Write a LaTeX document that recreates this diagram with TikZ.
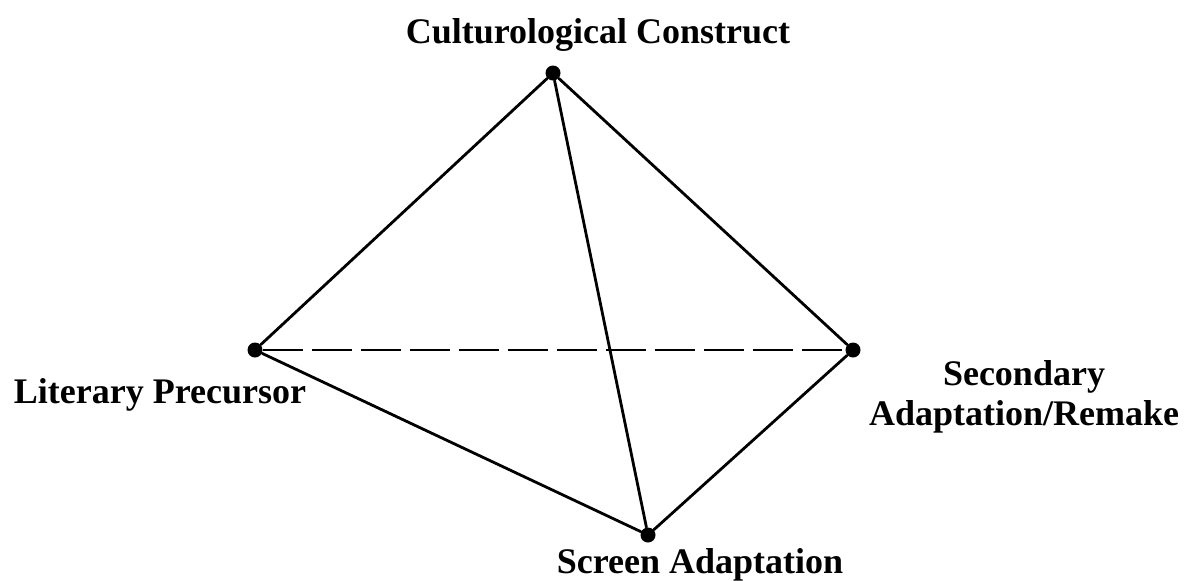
\documentclass[tikz,border=0pt]{standalone}
\usepackage{fontspec}
\setmainfont{Liberation Serif}
\usetikzlibrary{positioning}

\tikzset{
  vertex/.style={circle, fill=black, inner sep=0pt, minimum size=7.5pt},
  edge line/.style={line width=1.4pt, black},
  corner label/.style={font=\bfseries\fontsize{18}{20}\selectfont, inner sep=0pt, align=center}
}

\begin{document}
\begin{tikzpicture}[x=0.5pt, y=-0.5pt, line join=round, line cap=round]
\useasboundingbox (0,0) rectangle (1204,580);

% Corners of the tetrahedron
\node[vertex] (culture) at (553,73) {};
\node[vertex] (literary) at (255,350) {};
\node[vertex] (secondary) at (853,350) {};
\node[vertex] (screen) at (648,535) {};

% Hidden edge at the back
\draw[edge line, dash pattern=on 20pt off 4.5pt, line cap=butt] (literary) -- (secondary);

% Visible edges
\draw[edge line] (literary) -- (culture) -- (secondary);
\draw[edge line] (literary) -- (screen) -- (secondary);
\draw[edge line] (culture) -- (screen);

% Corner names
\node[corner label, anchor=base] (culturelabel) at (598,43) {Culturological Construct};
\node[corner label, anchor=base] (literarylabel) at (160,403) {Literary Precursor};
\node[corner label, anchor=center] (secondarylabel) at (1024,397) {Secondary\\Adaptation/Remake};
\node[corner label, anchor=base] (screenlabel) at (700,573) {Screen Adaptation};
\end{tikzpicture}
\end{document}
